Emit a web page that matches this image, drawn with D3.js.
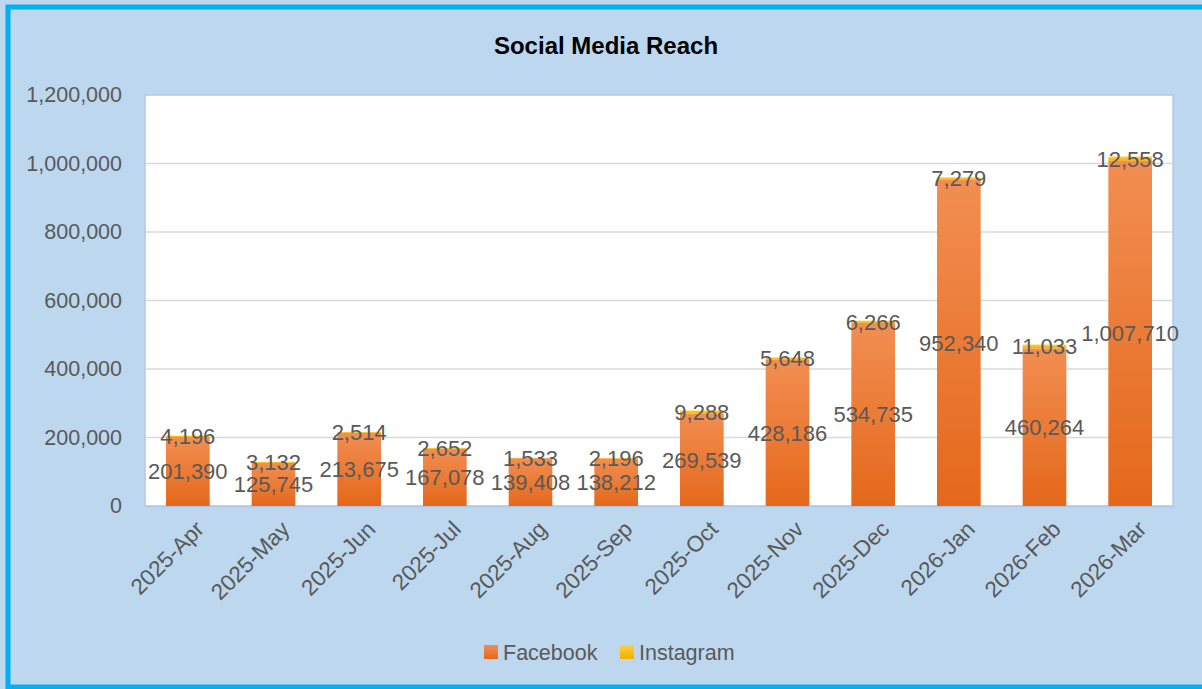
<!DOCTYPE html>
<html>
<head>
<meta charset="utf-8">
<script src="https://cdn.jsdelivr.net/npm/d3@7"></script>
<style>
  body { margin: 0; background: #fff; }
  text { font-family: "Liberation Sans", Arial, sans-serif; fill: #595959; }
</style>
</head>
<body>
<svg id="chart" width="1202" height="689"></svg>
<script>
const months = ["2025-Apr", "2025-May", "2025-Jun", "2025-Jul", "2025-Aug", "2025-Sep",
  "2025-Oct", "2025-Nov", "2025-Dec", "2026-Jan", "2026-Feb", "2026-Mar"];
const facebook = [201390, 125745, 213675, 167078, 139408, 138212,
  269539, 428186, 534735, 952340, 460264, 1007710];
const instagram = [4196, 3132, 2514, 2652, 1533, 2196,
  9288, 5648, 6266, 7279, 11033, 12558];
const seriesNames = ["Facebook", "Instagram"];
const yTicks = [0, 200000, 400000, 600000, 800000, 1000000, 1200000];

const svg = d3.select("#chart");
const plot = { left: 145, top: 95, right: 1173, bottom: 506 };

// background + cyan frame
svg.append("rect").attr("width", 1202).attr("height", 689).attr("fill", "#bdd7ee");
svg.append("rect")
  .attr("x", 8).attr("y", 7).attr("width", 1202).attr("height", 680)
  .attr("fill", "none").attr("stroke", "#00b0f0").attr("stroke-width", 5);

const defs = svg.append("defs");
function grad(id, c0, c1) {
  const g = defs.append("linearGradient").attr("id", id)
    .attr("x1", 0).attr("y1", 0).attr("x2", 0).attr("y2", 1);
  g.append("stop").attr("offset", "0%").attr("stop-color", c0);
  g.append("stop").attr("offset", "100%").attr("stop-color", c1);
}
grad("g-fb", "#f28e52", "#e4681a");
grad("g-ig", "#ffd040", "#f0b000");
const fills = ["url(#g-fb)", "url(#g-ig)"];

const x = d3.scaleBand().domain(months).range([plot.left, plot.right]).paddingInner(0.49).paddingOuter(0.245);
const y = d3.scaleLinear().domain([0, 1200000]).range([plot.bottom, plot.top]);

svg.append("rect")
  .attr("x", plot.left).attr("y", plot.top)
  .attr("width", plot.right - plot.left).attr("height", plot.bottom - plot.top)
  .attr("fill", "#fff").attr("stroke", "#b4c7e7").attr("stroke-width", 1.5);

// gridlines
svg.append("g").selectAll("line")
  .data(yTicks.slice(1, -1))
  .join("line")
  .attr("x1", plot.left + 1).attr("x2", plot.right - 1)
  .attr("y1", d => y(d)).attr("y2", d => y(d))
  .attr("stroke", "#d9d9d9").attr("stroke-width", 1.5);

// y axis labels
const yAxis = svg.append("g")
  .attr("transform", `translate(${plot.left},0)`)
  .call(d3.axisLeft(y).tickValues(yTicks).tickFormat(d3.format(",")).tickSize(0).tickPadding(23));
yAxis.select(".domain").remove();
yAxis.selectAll("text").style("font-size", "21.5px").attr("fill", "#595959")
  .style("font-family", "'Liberation Sans', Arial, sans-serif");

// x axis labels
const xAxis = svg.append("g")
  .attr("transform", `translate(0,${plot.bottom})`)
  .call(d3.axisBottom(x).tickSize(0));
xAxis.select(".domain").attr("stroke", "#b4c7e7").attr("stroke-width", 1.5);
xAxis.selectAll("text")
  .style("font-size", "22.5px").attr("fill", "#595959")
  .style("font-family", "'Liberation Sans', Arial, sans-serif")
  .attr("text-anchor", "end")
  .attr("dy", "0.35em").attr("y", 0)
  .attr("transform", "translate(12,19) rotate(-45)");

// stacked bars
const rows = months.map((m, i) => ({ month: m, Facebook: facebook[i], Instagram: instagram[i] }));
const stacked = d3.stack().keys(seriesNames)(rows);

const layers = svg.append("g").selectAll("g")
  .data(stacked)
  .join("g")
  .attr("fill", (d, i) => fills[i]);

layers.selectAll("rect")
  .data(d => d)
  .join("rect")
  .attr("x", d => x(d.data.month))
  .attr("width", x.bandwidth())
  .attr("y", d => y(d[1]))
  .attr("height", d => y(d[0]) - y(d[1]));

// data labels, centred on each segment
const labels = svg.append("g");
stacked.forEach(layer => {
  labels.selectAll(null)
    .data(layer)
    .join("text")
    .attr("x", d => x(d.data.month) + x.bandwidth() / 2)
    .attr("y", d => (y(d[0]) + y(d[1])) / 2)
    .attr("dy", "0.36em")
    .attr("text-anchor", "middle")
    .style("font-size", "22px")
    .text(d => d3.format(",")(d.data[layer.key]));
});

// title
svg.append("text")
  .attr("x", 606).attr("y", 54)
  .attr("text-anchor", "middle")
  .style("font-size", "24px").style("font-weight", "bold").style("fill", "#000")
  .text("Social Media Reach");

// legend
const legendX = [484, 620];
const legend = svg.append("g").selectAll("g")
  .data(seriesNames)
  .join("g")
  .attr("transform", (d, i) => `translate(${legendX[i]},645)`);
legend.append("rect")
  .attr("width", 14).attr("height", 14)
  .attr("fill", (d, i) => fills[i]);
legend.append("text")
  .attr("x", 19).attr("y", 7).attr("dy", "0.36em")
  .style("font-size", "21.5px")
  .text(d => d);
</script>
</body>
</html>
